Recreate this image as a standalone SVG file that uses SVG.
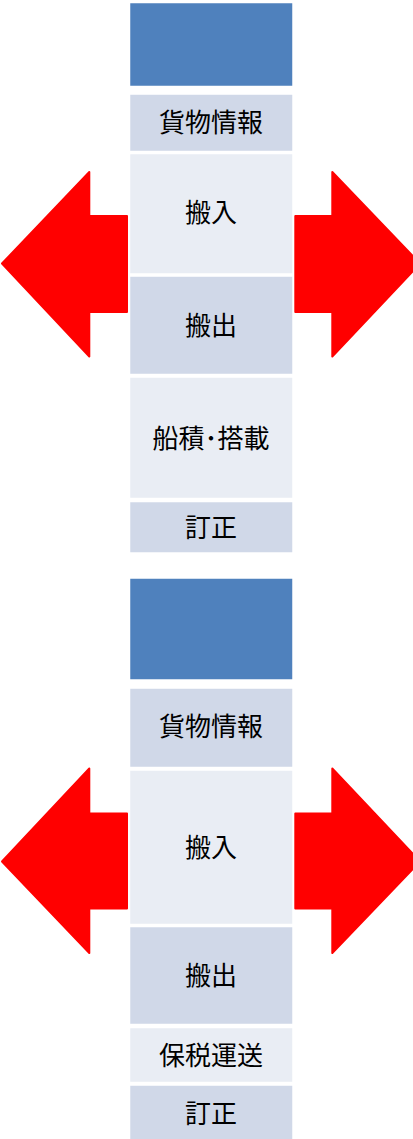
<svg xmlns="http://www.w3.org/2000/svg" width="413" height="1139" viewBox="0 0 413 1139">
<style>
.hd{fill:#4F81BD;stroke:#fff;stroke-width:1.5}
.dk{fill:#D0D8E8;stroke:#fff;stroke-width:1.5}
.lt{fill:#E9EDF4;stroke:#fff;stroke-width:1.5}
.ar{fill:#FF0000;stroke:#FF0000;stroke-width:2;stroke-linejoin:round}
text{font-family:"Noto Sans CJK JP","Noto Sans CJK SC",sans-serif;font-size:26px;font-weight:400;fill:#000;text-anchor:middle;dominant-baseline:central}
</style>
<g id="connectors">
<path class="ar" d="M127,216 L89.3,216 L89.3,172 L2,263.5 L89.3,356.5 L89.3,312 L127,312 Z"/>
<path class="ar" d="M295.3,216 L332.3,216 L332.3,172 L420,263.5 L332.3,356.5 L332.3,312 L295.3,312 Z"/>
<path class="ar" d="M127,813.5 L89.3,813.5 L89.3,768.5 L2,861.5 L89.3,953 L89.3,908.5 L127,908.5 Z"/>
<path class="ar" d="M295.3,813.5 L332.3,813.5 L332.3,768.5 L420,861.5 L332.3,953 L332.3,908.5 L295.3,908.5 Z"/>
</g>
<g id="head1"><rect class="hd" x="129.5" y="2.5" width="163.5" height="84"/></g>
<g id="cargo1"><rect class="dk" x="129.5" y="94" width="163.5" height="57.5"/><text x="211" y="120">貨物情報</text></g>
<g id="in1"><rect class="lt" x="129.5" y="153.5" width="163.5" height="120.5"/><text x="211" y="210.5">搬入</text></g>
<g id="out1"><rect class="dk" x="129.5" y="276" width="163.5" height="98.5"/><text x="211" y="323">搬出</text></g>
<g id="ship1"><rect class="lt" x="129.5" y="377" width="163.5" height="121.5"/><text x="211" y="436">船積･搭載</text></g>
<g id="fix1"><rect class="dk" x="129.5" y="501.5" width="163.5" height="51.5"/><text x="211" y="525">訂正</text></g>
<g id="head2"><rect class="hd" x="129.5" y="578" width="163.5" height="102"/></g>
<g id="cargo2"><rect class="dk" x="129.5" y="688" width="163.5" height="79.5"/><text x="211" y="724">貨物情報</text></g>
<g id="in2"><rect class="lt" x="129.5" y="770" width="163.5" height="154.5"/><text x="211" y="845">搬入</text></g>
<g id="out2"><rect class="dk" x="129.5" y="926.5" width="163.5" height="98"/><text x="211" y="973">搬出</text></g>
<g id="bonded2"><rect class="lt" x="129.5" y="1027.5" width="163.5" height="55"/><text x="211" y="1053">保税運送</text></g>
<g id="fix2"><rect class="dk" x="129.5" y="1085" width="163.5" height="56"/><text x="211" y="1111">訂正</text></g>
</svg>
